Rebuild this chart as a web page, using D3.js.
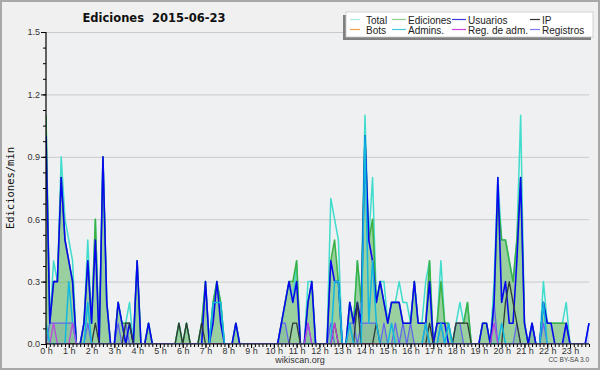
<!DOCTYPE html>
<html><head><meta charset="utf-8">
<script src="https://cdn.jsdelivr.net/npm/d3@7/dist/d3.min.js"></script>
<style>body{margin:0;background:#f0f0f0}svg{display:block}</style>
</head><body>
<svg id="c" width="600" height="370"></svg>
<script>
// 10-minute bins (144 per day), values in edits/min; one row per hour
const hourLabels = d3.range(24).map(h => h + " h");
const total = [
1.1,0.1,0.4,0.3,0.9,0.6, 0.5,0.4,0,0,0.1,0.5, 0.1,0.6,0,0.9,0.2,0, 0,0.2,0.1,0.1,0.2,0,
0.4,0,0,0.1,0,0, 0,0,0,0,0,0.1, 0,0.1,0,0,0,0.1, 0.3,0,0.2,0.3,0.2,0,
0,0,0.1,0,0,0, 0,0,0,0,0,0, 0,0,0.1,0.2,0.3,0.2, 0.4,0,0,0.3,0.3,0,
0,0,0,0.7,0.6,0.5, 0,0,0.2,0.1,0.4,0.2, 1.1,0.5,0.8,0.2,0.3,0.3, 0.1,0.2,0.2,0.3,0.2,0.2,
0.1,0.3,0.1,0.1,0.3,0.4, 0,0.1,0.4,0.1,0.1,0, 0.1,0.2,0.1,0.2,0,0, 0,0.1,0.1,0,0.3,0.8,
0.5,0.5,0.4,0.3,0.5,1.1, 0.1,0,0.1,0,0,0.3, 0.1,0.1,0.1,0.1,0.1,0.2, 0,0,0,0,0,0.1];
const ediciones = [
1.1,0.1,0.3,0.3,0.8,0.5, 0.4,0.3,0,0,0.1,0.4, 0.1,0.6,0,0.9,0.2,0, 0,0.2,0.1,0.1,0.1,0,
0.4,0,0,0.1,0,0, 0,0,0,0,0,0.1, 0,0.1,0,0,0,0.1, 0.3,0,0.2,0.3,0.2,0,
0,0,0.1,0,0,0, 0,0,0,0,0,0, 0,0,0.1,0.2,0.3,0.3, 0.4,0,0,0.2,0.3,0,
0,0,0,0.4,0.5,0.3, 0,0,0.2,0.1,0.4,0.2, 1.0,0.5,0.6,0.2,0.3,0.2, 0.1,0.2,0.2,0.2,0.1,0.1,
0.1,0.3,0.1,0.1,0.1,0.4, 0,0.1,0.3,0.1,0.1,0, 0.1,0.1,0.1,0.2,0,0, 0,0.1,0.1,0,0.2,0.7,
0.5,0.5,0.4,0.3,0.5,0.8, 0.1,0,0.1,0,0,0.2, 0.1,0.1,0.1,0.1,0.1,0.1, 0,0,0,0,0,0];
const usuarios = [
1.0,0.1,0.3,0.3,0.8,0.5, 0.4,0.3,0,0,0.1,0.4, 0.1,0.5,0,0.9,0.2,0, 0,0.2,0.1,0,0.1,0,
0.4,0,0,0.1,0,0, 0,0,0,0,0,0, 0,0,0,0,0,0, 0.3,0,0.1,0.3,0.1,0,
0,0,0.1,0,0,0, 0,0,0,0,0,0, 0,0,0.1,0.2,0.3,0.2, 0.3,0,0,0.2,0.3,0,
0,0,0,0.4,0.3,0.3, 0,0,0.2,0.1,0.2,0.1, 1.0,0.5,0.4,0.2,0.3,0.2, 0.1,0.2,0.2,0.2,0.1,0.1,
0.1,0.3,0.1,0.1,0.1,0.3, 0,0.1,0.1,0.1,0,0, 0,0,0,0,0,0, 0,0.1,0.1,0,0.2,0.8,
0.2,0.3,0.1,0.1,0.4,0.8, 0.1,0,0.1,0,0,0.2, 0.1,0.1,0,0,0,0.1, 0,0,0,0,0,0.1];
const ip = [
0,0,0,0,0,0, 0,0,0,0,0,0, 0,0.1,0,0,0,0, 0,0,0,0.1,0.1,0,
0,0,0,0,0,0, 0,0,0,0,0,0.1, 0,0.1,0,0,0,0.1, 0,0,0,0,0,0,
0,0,0,0,0,0, 0,0,0,0,0,0, 0,0,0,0,0,0.1, 0.1,0,0,0,0,0,
0,0,0,0,0.1,0, 0,0,0,0,0.2,0, 0,0,0,0.1,0,0, 0,0,0,0,0,0,
0,0,0,0,0,0.1, 0,0,0,0,0,0, 0.1,0.1,0.1,0.1,0,0, 0,0,0,0,0,0,
0,0.2,0.3,0.2,0.1,0, 0,0,0,0,0,0, 0,0,0,0,0,0, 0,0,0,0,0,0];
const bots = d3.range(144).map(() => 0);
const admins = [
0.1,0,0,0,0,0, 0.3,0.1,0,0,0,0.2, 0,0,0,0,0,0, 0,0,0,0,0,0,
0,0,0,0,0,0, 0,0,0,0,0,0, 0,0,0,0,0,0, 0,0,0.2,0.2,0.2,0,
0,0,0,0,0,0, 0,0,0,0,0,0, 0,0,0,0,0,0, 0,0,0,0,0,0,
0,0,0,0,0.3,0.3, 0,0,0.1,0,0,0, 1.0,0.1,0.4,0.1,0,0, 0,0.1,0,0,0,0,
0,0,0,0,0.1,0, 0,0,0.1,0,0.1,0, 0,0,0,0,0,0, 0,0,0,0,0,0,
0.1,0,0,0,0,0, 0,0,0,0,0,0.2, 0,0,0,0,0,0, 0,0,0,0,0,0];
const regAdm = [
0,0,0.1,0,0,0, 0,0.1,0,0,0,0, 0,0,0,0,0,0, 0,0,0,0,0,0,
0,0,0,0,0,0, 0,0,0,0,0,0, 0,0,0,0,0,0, 0,0,0,0,0,0,
0,0,0,0,0,0, 0,0,0,0,0,0, 0,0,0,0,0,0, 0,0,0,0.1,0,0,
0,0,0,0,0.1,0, 0,0,0,0,0,0, 0,0,0,0,0,0, 0,0,0,0,0,0,
0,0,0,0,0,0, 0,0,0,0,0,0, 0,0,0,0,0,0, 0,0,0,0,0.1,0,
0,0,0,0,0,0, 0,0,0,0,0,0, 0,0,0,0,0,0, 0,0,0,0,0,0];
const registros = [
0,0.1,0.1,0.1,0.1,0.1, 0.1,0.1,0,0,0,0.1, 0,0,0,0,0,0, 0,0.1,0,0.1,0,0,
0,0,0,0,0,0, 0,0,0,0,0,0, 0,0,0,0,0,0, 0,0,0,0,0,0,
0,0,0,0,0,0, 0,0,0,0,0,0, 0,0,0.1,0.1,0,0, 0,0,0,0.1,0,0,
0,0,0,0.1,0,0, 0,0,0.1,0.1,0,0.1, 0.1,0.1,0.1,0.1,0,0.1, 0,0,0.1,0,0.1,0,
0.1,0,0,0,0.1,0, 0,0,0.1,0,0,0, 0.1,0.1,0,0,0,0, 0,0,0,0,0.2,0,
0,0,0,0,0.1,0, 0,0,0.1,0,0,0.1, 0,0,0,0,0,0.1, 0,0,0,0,0,0.1];
const yTicks = [0, 0.3, 0.6, 0.9, 1.2, 1.5];

const series = [
  {name:"Bots", data:bots, color:"#ff9900", w:1.2, leg:"#f5a04a"},
  {name:"Total", data:total, color:"#40dccc", w:1.5, leg:"#a8e8e0"},
  {name:"Ediciones", data:ediciones, color:"#3cb043", w:1.5, leg:"#8fd08f"},
  {name:"Registros", data:registros, color:"#6262f0", w:1.2, leg:"#7a7aee"},
  {name:"Usuarios", data:usuarios, color:"#0808f0", w:1.6, leg:"#3c3cd8"},
  {name:"IP", data:ip, color:"#303838", w:1.3, leg:"#333"},
  {name:"Admins.", data:admins, color:"#10b8e0", w:1.5, leg:"#40c8d8"},
  {name:"Reg. de adm.", data:regAdm, color:"#c040e0", w:1.2, leg:"#cc44dd"}
];
const legendOrder = ["Total","Ediciones","Usuarios","IP","Bots","Admins.","Reg. de adm.","Registros"];

const svg = d3.select("#c");
const X0 = 46, X1 = 589, Y0 = 32, Y1 = 344;
const x = d3.scaleLinear().domain([0, 143]).range([X0, X1]);
const y = d3.scaleLinear().domain([0, 1.5]).range([Y1, Y0]);

svg.append("rect").attr("x",1).attr("y",1).attr("width",598).attr("height",368)
  .attr("fill","#f0f0f0").attr("stroke","#a8a8a8").attr("stroke-width",2);
svg.append("rect").attr("x",X0).attr("y",Y0).attr("width",X1-X0).attr("height",Y1-Y0).attr("fill","#eef0f2");

// grid
svg.append("g").selectAll("line").data(yTicks.filter(d=>d>0)).join("line")
  .attr("x1",X0).attr("x2",X1).attr("y1",d=>y(d)+0.5).attr("y2",d=>y(d)+0.5)
  .attr("stroke","#cacaca").attr("stroke-width",1);

svg.append("defs").append("clipPath").attr("id","clip").append("rect")
  .attr("x",X0).attr("y",Y0-2).attr("width",X1-X0+2).attr("height",Y1-Y0+2);
const plot = svg.append("g").attr("clip-path","url(#clip)");

const area = d3.area().x((d,i)=>x(i)).y0(y(0)).y1(d=>y(d));
const line = d3.line().x((d,i)=>x(i)).y(d=>y(d));

plot.append("path").datum(registros).attr("d",area).attr("fill","#5050e0").attr("opacity",0.18);
plot.append("path").datum(ediciones).attr("d",area).attr("fill","#46b04e").attr("opacity",0.5);

series.forEach(s => {
  plot.append("path").datum(s.data).attr("d",line).attr("fill","none")
    .attr("stroke",s.color).attr("stroke-width",s.w).attr("stroke-linejoin","round");
});

// axes
const fontT = "'Liberation Sans', Arial, sans-serif";
const yMinor = svg.append("g").attr("transform",`translate(${X0},0)`)
  .call(d3.axisLeft(y).tickValues(d3.range(0,1.5001,0.075)).tickSize(3).tickFormat(""));
const yMajor = svg.append("g").attr("transform",`translate(${X0},0)`)
  .call(d3.axisLeft(y).tickValues(yTicks).tickSize(5).tickPadding(1).tickFormat(d3.format(".1f")));
const xMinor = svg.append("g").attr("transform",`translate(0,${Y1})`)
  .call(d3.axisBottom(x).tickValues(d3.range(0,144)).tickSize(3).tickFormat(""));
const xMajor = svg.append("g").attr("transform",`translate(0,${Y1})`)
  .call(d3.axisBottom(x).tickValues(d3.range(0,144,6)).tickSize(4).tickPadding(0)
    .tickFormat(d => hourLabels[d/6]));
[yMinor,yMajor,xMinor,xMajor].forEach(g => {
  g.selectAll(".domain").attr("stroke","#000").attr("stroke-width",1.2);
  g.selectAll(".tick line").attr("stroke","#000");
  g.selectAll("text").attr("font-family",fontT).attr("font-size",9).attr("fill","#333");
});
yMajor.selectAll(".domain").remove(); yMinor.selectAll(".domain").attr("d",`M0,${Y0}V${Y1}`);
xMajor.selectAll(".domain").remove(); xMinor.selectAll(".domain").attr("d",`M${X0},0H${X1}`);

// titles
svg.append("text").attr("x",154).attr("y",22).attr("text-anchor","middle")
  .attr("font-family","'DejaVu Sans', sans-serif").attr("font-weight","bold").attr("font-size",11.5)
  .attr("fill","#111").attr("xml:space","preserve").text("Ediciones  2015-06-23");
svg.append("text").attr("transform","translate(14,188) rotate(-90)").attr("text-anchor","middle")
  .attr("font-family","'DejaVu Sans Mono', monospace").attr("font-size",10.5).attr("fill","#111")
  .text("Ediciones/min");
svg.append("text").attr("x",300).attr("y",363).attr("text-anchor","middle")
  .attr("font-family",fontT).attr("font-size",9).attr("fill","#333").text("wikiscan.org");
svg.append("text").attr("x",589).attr("y",362).attr("text-anchor","end")
  .attr("font-family",fontT).attr("font-size",6.5).attr("fill","#444").text("CC BY-SA 3.0");

// legend
const lg = svg.append("g");
lg.append("rect").attr("x",343).attr("y",15).attr("width",248).attr("height",25).attr("fill","#808080");
lg.append("rect").attr("x",346).attr("y",12).attr("width",247).attr("height",25)
  .attr("fill","#fff").attr("stroke","#c8c8c8").attr("stroke-width",0.8);
const colX = [350, 392, 452, 530];
const rowY = [20, 30];
legendOrder.forEach((n, k) => {
  const s = series.find(d => d.name === n);
  const cx = colX[k % 4], cy = rowY[Math.floor(k / 4)];
  const len = (k % 4 === 0 || k % 4 === 3) ? 10 : 14;
  lg.append("line").attr("x1",cx).attr("x2",cx+len).attr("y1",cy-0.5).attr("y2",cy-0.5)
    .attr("stroke",s.leg).attr("stroke-width",1.2);
  lg.append("text").attr("x",cx+len+(k%4===0?6:2)).attr("y",cy+3.5)
    .attr("font-family",fontT).attr("font-size",10).attr("fill","#222").text(n);
});
</script>
</body></html>
